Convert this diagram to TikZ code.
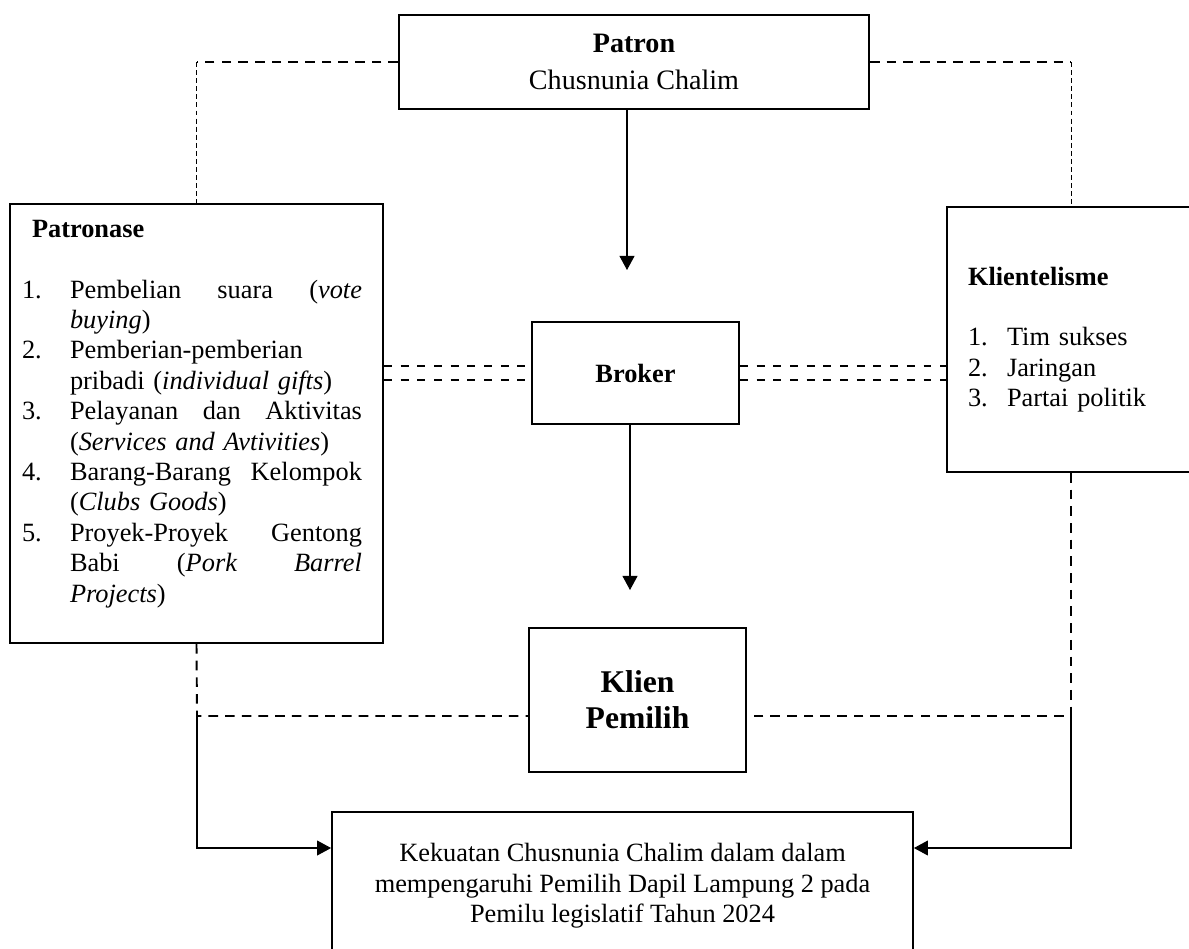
\documentclass[tikz,border=0pt]{standalone}
\usepackage{fontspec}
\setmainfont{Liberation Serif}
\usetikzlibrary{positioning,arrows.meta,calc}
\tikzset{
  >={Triangle[length=8pt,width=8.5pt]},
  box/.style={
    draw,
    line width     = 1.1pt,
    inner sep      = 0pt,
    align          = center},
  listbox/.style={
    box,
    inner xsep     = 0.24cm,
    align          = left},
  link/.style={
    line width     = 1.1pt,
    dash pattern   = on 5.5pt off 4pt},
  twin/.style={
    line width     = 1.1pt,
    dash pattern   = on 4.5pt off 5pt},
  faint/.style={
    line width     = 0.5pt,
    dash pattern   = on 2.8pt off 1.8pt},
  flow/.style={
    ->,
    line width     = 0.6pt}
}
\newcommand\numitem[3][0.96cm]{\makebox[#1][l]{#2}#3}
\newcommand\justline[1]{\makebox[5.84cm][s]{\spaceskip=0pt\relax\xspaceskip=0pt\relax#1}}
\newcommand\contitem{\hspace*{0.96cm}}

\begin{document}
\begin{tikzpicture}[x=0.02cm, y=-0.02cm, font=\fontsize{15}{17.3}\selectfont]

\useasboundingbox (0,0) rectangle (1189,948);
\clip (0,0) rectangle (1189,948);

\node[box, minimum width=9.4cm, minimum height=1.88cm,
      font=\fontsize{16}{21}\selectfont] (patron) at (634,62)
      {\textbf{Patron}\\Chusnunia Chalim};

\node[listbox, text width=6.98cm, minimum height=8.78cm] (patronase) at (196.5,423.5)
{
  \hspace*{0.2cm}\textbf{Patronase}\\[17.3pt]
  \numitem{1.}{\justline{Pembelian suara (\emph{vote}}}\\
  \contitem\emph{buying})\\
  \numitem{2.}{Pemberian-pemberian}\\
  \contitem pribadi (\emph{individual gifts})\\
  \numitem{3.}{\justline{Pelayanan dan Aktivitas}}\\
  \contitem(\emph{Services and Avtivities})\\
  \numitem{4.}{\justline{Barang-Barang Kelompok}}\\
  \contitem(\emph{Clubs Goods})\\
  \numitem{5.}{\justline{Proyek-Proyek Gentong}}\\
  \contitem\justline{Babi (\emph{Pork Barrel}}\\
  \contitem\emph{Projects})\rule[-0.5cm]{0pt}{0pt}
};

\node[listbox, inner xsep=0.42cm, text width=4.12cm, minimum height=5.3cm]
      (klient) at (1071,339.5)
{
  \textbf{Klientelisme}\\[17.3pt]
  \numitem[0.78cm]{1.}{Tim sukses}\\
  \numitem[0.78cm]{2.}{Jaringan}\\
  \numitem[0.78cm]{3.}{Partai politik}
};

\node[box, minimum width=4.14cm, minimum height=2.04cm] (broker) at (635.5,373)
      {\textbf{Broker}};

\node[box, minimum width=4.34cm, minimum height=2.88cm,
      font=\fontsize{18}{20.5}\selectfont] (klien) at (637.5,700)
      {\textbf{Klien}\\\textbf{Pemilih}};

\node[box, minimum width=11.62cm, minimum height=2.96cm] (result) at (622.5,886)
{
  Kekuatan Chusnunia Chalim dalam dalam\\
  mempengaruhi Pemilih Dapil Lampung 2 pada\\
  Pemilu legislatif Tahun 2024
};

% links from the patron
\coordinate (pl) at (patronase.north |- patron.west);
\coordinate (pr) at (klient.north |- patron.east);
\draw[link]  (patron.west) -- (pl);
\draw[faint] (pl) -- (patronase.north);
\draw[link]  (patron.east) -- (pr);
\draw[faint] (pr) -- (klient.north);

\coordinate (tipa) at (627,270);
\draw[flow] (tipa |- patron.south) -- (tipa);

% broker in the middle
\foreach \s in {0.14cm,-0.14cm}{
  \draw[twin] ([yshift=\s]broker.west -| patronase.east) -- ([yshift=\s]broker.west);
  \draw[twin] ([yshift=\s]broker.east) -- ([yshift=\s]broker.east -| klient.west);
}

\coordinate (tipb) at (630,590);
\draw[flow] (tipb |- broker.south) -- (tipb);

% down to the voters
\coordinate (lj) at (197,716);
\coordinate (rj) at (1071,716);
\draw[link] (patronase.south) -- (lj) -- (lj -| klien.west);
\draw[link] (klient.south) -- (rj) -- (rj -| klien.east);

\coordinate (hin) at (0,848);
\draw[flow] (lj) |- (result.west |- hin);
\draw[flow] (rj) |- (result.east |- hin);

\end{tikzpicture}
\end{document}
